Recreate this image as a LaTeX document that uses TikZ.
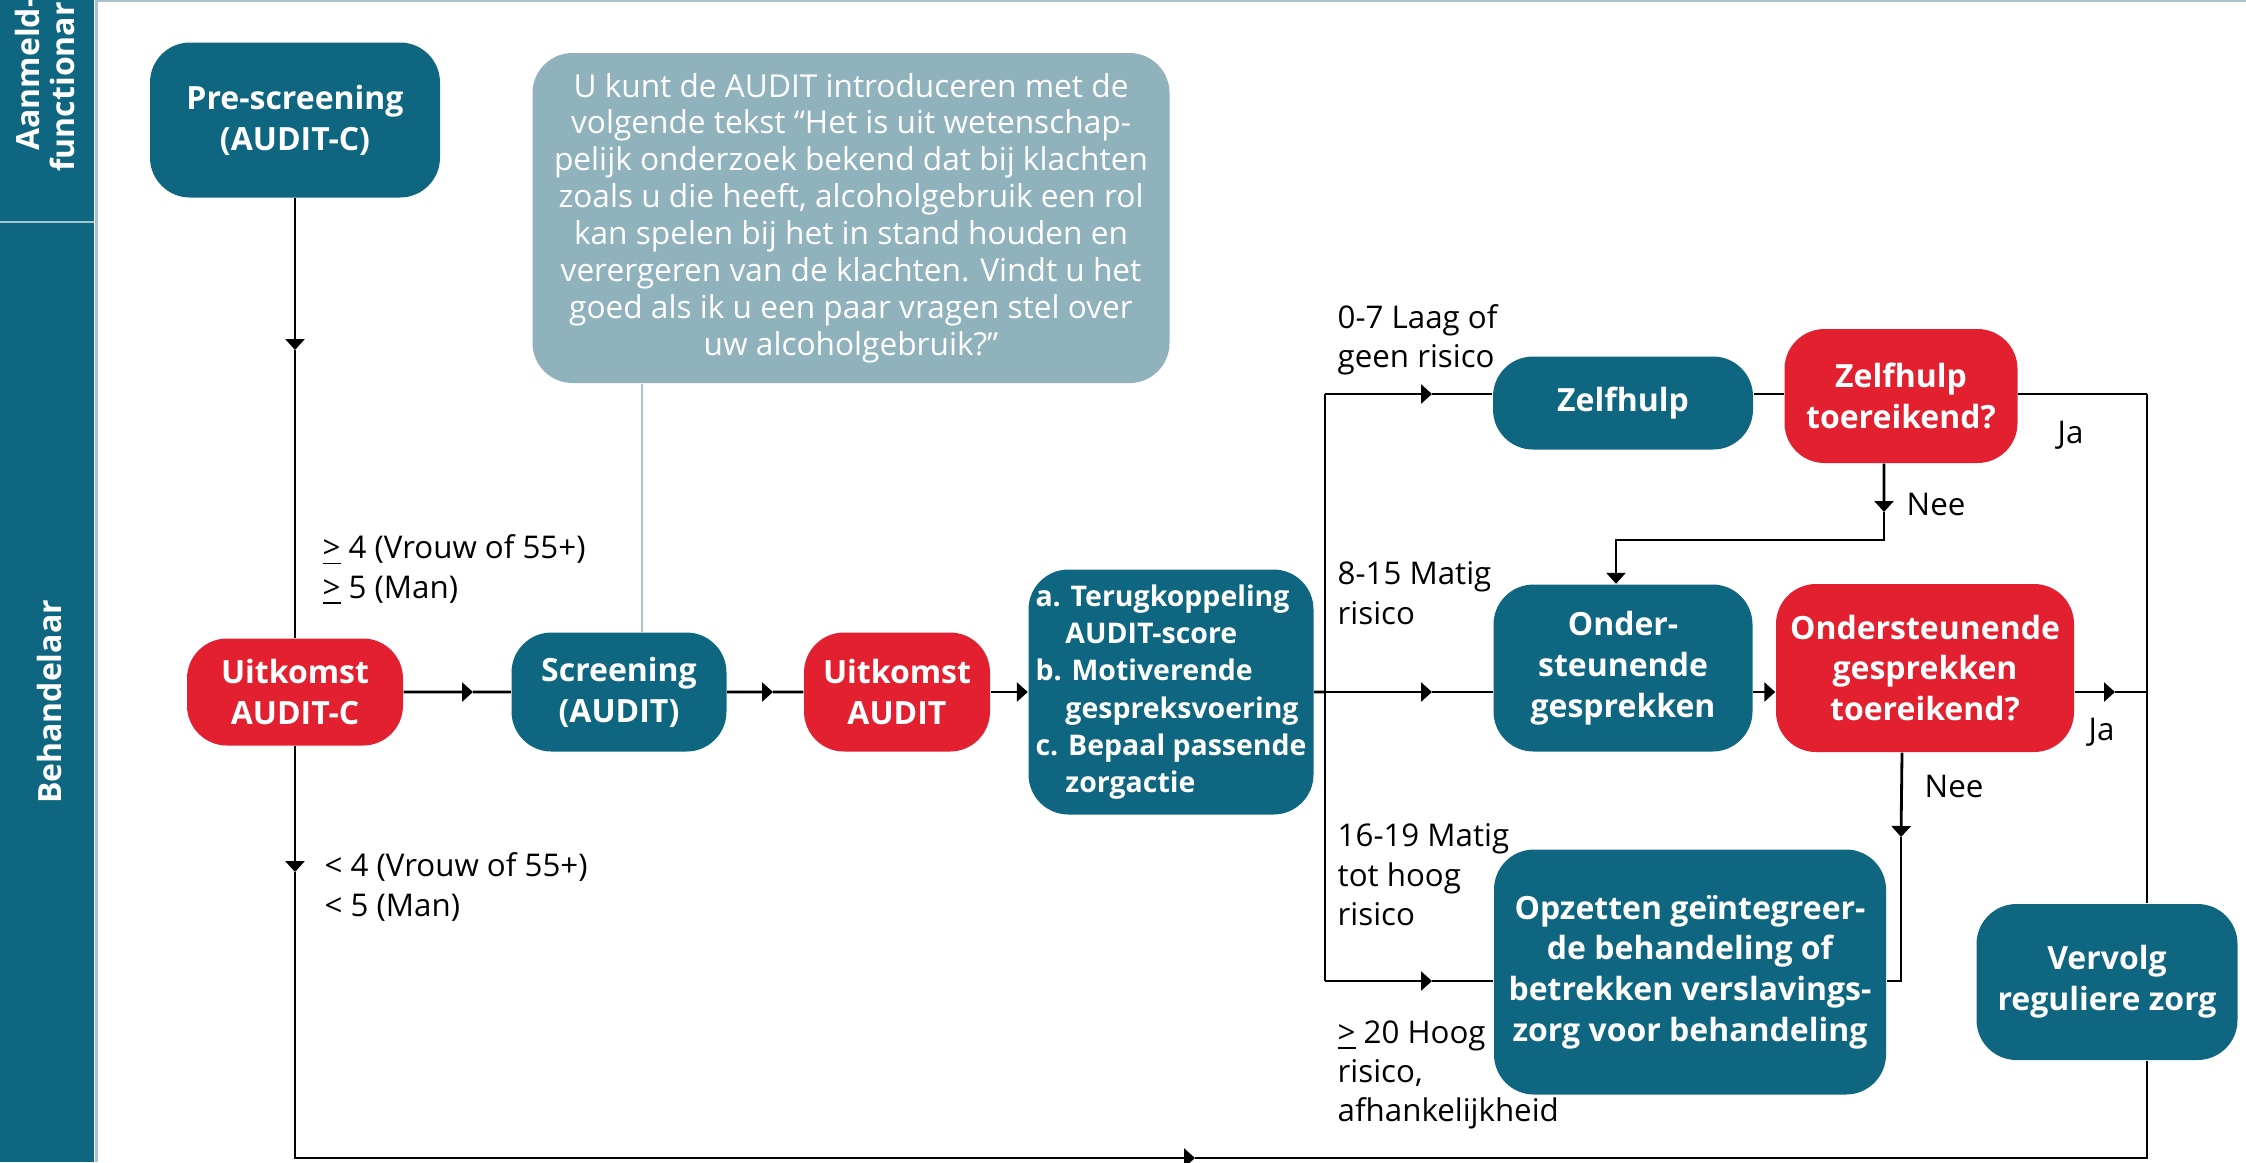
\documentclass[tikz,border=0pt]{standalone}
\usepackage{fontspec}
\setmainfont{Open Sans}
\usepackage{tikz}
\usetikzlibrary{arrows.meta}
\definecolor{ggzteal}{HTML}{0E6680}
\definecolor{ggzred}{HTML}{E3202F}
\definecolor{notegrey}{HTML}{8FB2BD}
\definecolor{rulegrey}{HTML}{A9C3CD}
\newcommand{\boxfont}{\fontsize{9.1}{11.6}\selectfont\bfseries}
\newcommand{\actfont}{\fontsize{8.1}{10.6}\selectfont\bfseries}
\newcommand{\notefont}{\fontsize{9}{10.5}\selectfont}
\newcommand{\lblfont}{\fontsize{8.9}{11.2}\selectfont}
\newcommand{\lanefont}{\fontsize{9.1}{9.7}\selectfont\bfseries}
\newcommand{\actind}{\hspace*{1.05em}}
\tikzstyle{stap} = [rectangle, rounded corners=0.4cm, inner sep=0pt, align=center, text=white, font=\boxfont, fill=ggzteal]
\tikzstyle{uitkomst} = [stap, fill=ggzred]
\tikzstyle{toelichting} = [rectangle, rounded corners=0.4cm, inner sep=0pt, align=center, text=white, font=\notefont, fill=notegrey]
\tikzstyle{lane} = [rotate=90, inner sep=0pt, align=center, text=white, font=\lanefont]
\tikzstyle{tekst} = [inner sep=0pt, anchor=west, align=left, font=\lblfont]
\tikzstyle{lijn} = [line width=0.8pt]
\tikzstyle{arrow} = [line width=0.8pt, -{Triangle[length=1.1mm,width=1.9mm]}]
\tikzstyle{notelijn} = [line width=0.5pt, rulegrey]

\begin{document}
\begin{tikzpicture}[node distance=2cm]
		\useasboundingbox (0,0) rectangle (22.46,-11.62);
		\clip (0,0) rectangle (22.46,-11.62);
		\fill [ggzteal] (0,0) rectangle (0.94,-11.62);
		\draw [rulegrey, line width=0.6pt] (0,-2.22) -- (0.94,-2.22);
		\draw [rulegrey, line width=0.6pt] (0.965,0) -- (0.965,-11.62);
		\draw [rulegrey, line width=0.6pt] (0.965,-0.01) -- (22.46,-0.01);
		\node (afn) [lane] at (0.45,-0.74) {Aanmeld-\\functionaris};
		\node (beh) [lane] at (0.50,-7.02) {Behandelaar};

		\node (pre) [stap, minimum width=2.90cm, minimum height=1.55cm] at (2.95,-1.20) {Pre-screening\\(AUDIT-C)};
		\node (uc) [uitkomst, below of=pre, yshift=-3.72cm, minimum width=2.16cm, minimum height=1.07cm] {Uitkomst\\AUDIT-C};
		\node (scr) [stap, right of=uc, xshift=1.24cm, minimum width=2.15cm, minimum height=1.19cm] {Screening\\(AUDIT)};
		\node (ua) [uitkomst, right of=scr, xshift=0.78cm, minimum width=1.86cm, minimum height=1.19cm] {Uitkomst\\AUDIT};
		\node (act) [stap, right of=ua, xshift=0.74cm, minimum width=2.85cm, minimum height=2.45cm, align=left, font=\actfont] {a. Terugkoppeling\\\actind AUDIT-score\\b. Motiverende\\\actind gespreksvoering\\c. Bepaal passende\\\actind zorgactie};
		\node (cal) [toelichting, above of=scr, xshift=2.32cm, yshift=2.74cm, minimum width=6.37cm, minimum height=3.30cm] {U kunt de AUDIT introduceren met de\\volgende tekst “Het is uit wetenschap-\\pelijk onderzoek bekend dat bij klachten\\zoals u die heeft, alcoholgebruik een rol\\kan spelen bij het in stand houden en\\verergeren van de klachten. Vindt u het\\goed als ik u een paar vragen stel over\\uw alcoholgebruik?”};
		\node (zh) [stap, right of=act, xshift=2.52cm, yshift=2.89cm, minimum width=2.60cm, minimum height=0.93cm] {Zelfhulp};
		\node (zt) [uitkomst, right of=zh, xshift=0.78cm, yshift=0.07cm, minimum width=2.33cm, minimum height=1.34cm] {Zelfhulp\\toereikend?};
		\node (on) [stap, below of=zh, yshift=-0.65cm, minimum width=2.59cm, minimum height=1.67cm] {Onder-\\steunende\\gesprekken};
		\node (ot) [uitkomst, right of=on, xshift=1.02cm, minimum width=2.98cm, minimum height=1.68cm] {Ondersteunende\\gesprekken\\toereikend?};
		\node (op) [stap, below of=on, xshift=0.67cm, yshift=-1.04cm, minimum width=3.92cm, minimum height=2.45cm] {Opzetten geïntegreer-\\de behandeling of\\betrekken verslavings-\\zorg voor behandeling};
		\node (vz) [stap, right of=op, xshift=2.17cm, yshift=-0.10cm, minimum width=2.61cm, minimum height=1.56cm] {Vervolg\\reguliere zorg};

		\coordinate (t1) at (2.95,-3.50);
		\coordinate (t2) at (2.95,-8.72);
		\coordinate (t3) at (4.73,-6.92);
		\coordinate (t4) at (7.73,-6.92);
		\coordinate (bt) at (13.25,-3.94);
		\coordinate (bm) at (13.25,-6.92);
		\coordinate (bb) at (13.25,-9.81);
		\coordinate (t5) at (14.32,-3.94);
		\coordinate (t6) at (14.32,-6.92);
		\coordinate (t7) at (14.32,-9.81);
		\coordinate (t8) at (21.15,-6.92);
		\coordinate (t9) at (18.84,-5.12);
		\coordinate (c1) at (16.16,-5.40);
		\coordinate (t10) at (19.01,-8.37);
		\coordinate (t11) at (11.95,-11.58);
		\coordinate (rt) at (21.47,-3.94);
		\coordinate (rm) at (21.47,-6.92);

		\draw [arrow] (pre) -- (t1);
		\draw [lijn] (t1) -- (uc);
		\draw [arrow] (uc) -- (t3);
		\draw [lijn] (t3) -- (scr);
		\draw [arrow] (scr) -- (t4);
		\draw [lijn] (t4) -- (ua);
		\draw [arrow] (ua) -- (act);
		\draw [lijn] (act) -- (bm);
		\draw [lijn] (bt) -- (bb);
		\draw [arrow] (bt) -- (t5);
		\draw [lijn] (t5) -- (zh.west |- bt);
		\draw [arrow] (bm) -- (t6);
		\draw [lijn] (t6) -- (on.west |- bm);
		\draw [arrow] (bb) -- (t7);
		\draw [lijn] (t7) -- (op.west |- bb);
		\draw [lijn] (zh.east |- bt) -- (zt.west |- bt);
		\draw [lijn] (zt.east |- bt) -- (rt);
		\draw [lijn] (rt) -- (vz.north -| rt);
		\draw [arrow] ([xshift=-0.17cm]zt.south) -- (t9);
		\draw [arrow] (t9) |- (c1) -- (c1 |- on.north);
		\draw [arrow] (on.east |- bm) -- (ot.west |- bm);
		\draw [arrow] (ot.east |- bm) -- (t8);
		\draw [lijn] (t8) -- (rm);
		\draw [arrow] ([xshift=-0.23cm]ot.south) -- (t10);
		\draw [lijn] (t10) |- (op.east |- bb);
		\draw [arrow] (uc) -- (t2);
		\draw [arrow] (t2) |- (t11);
		\draw [lijn] (t11) -| (vz.south -| rt);
		\draw [notelijn] ([xshift=0.23cm]scr.north) -- ([xshift=0.23cm]scr.north |- cal.south);

		\node (ge) [tekst] at (3.22,-5.70) {\underline{>} 4 (Vrouw of 55+)\\\underline{>} 5 (Man)};
		\node (lt) [tekst] at (3.24,-8.87) {< 4 (Vrouw of 55+)\\< 5 (Man)};
		\node (r07) [tekst] at (13.37,-3.40) {0-7 Laag of\\geen risico};
		\node (r815) [tekst] at (13.37,-5.93) {8-15 Matig\\risico};
		\node (r1619) [tekst] at (13.37,-8.75) {16-19 Matig\\tot hoog\\risico};
		\node (r20) [tekst] at (13.37,-10.75) {\underline{>} 20 Hoog\\risico,\\afhankelijkheid};
		\node (nee1) [tekst] at (19.06,-5.04) {Nee};
		\node (nee2) [tekst] at (19.24,-7.86) {Nee};
		\node (ja1) [tekst] at (20.57,-4.35) {Ja};
		\node (ja2) [tekst] at (20.88,-7.32) {Ja};
	\end{tikzpicture}
\end{document}
